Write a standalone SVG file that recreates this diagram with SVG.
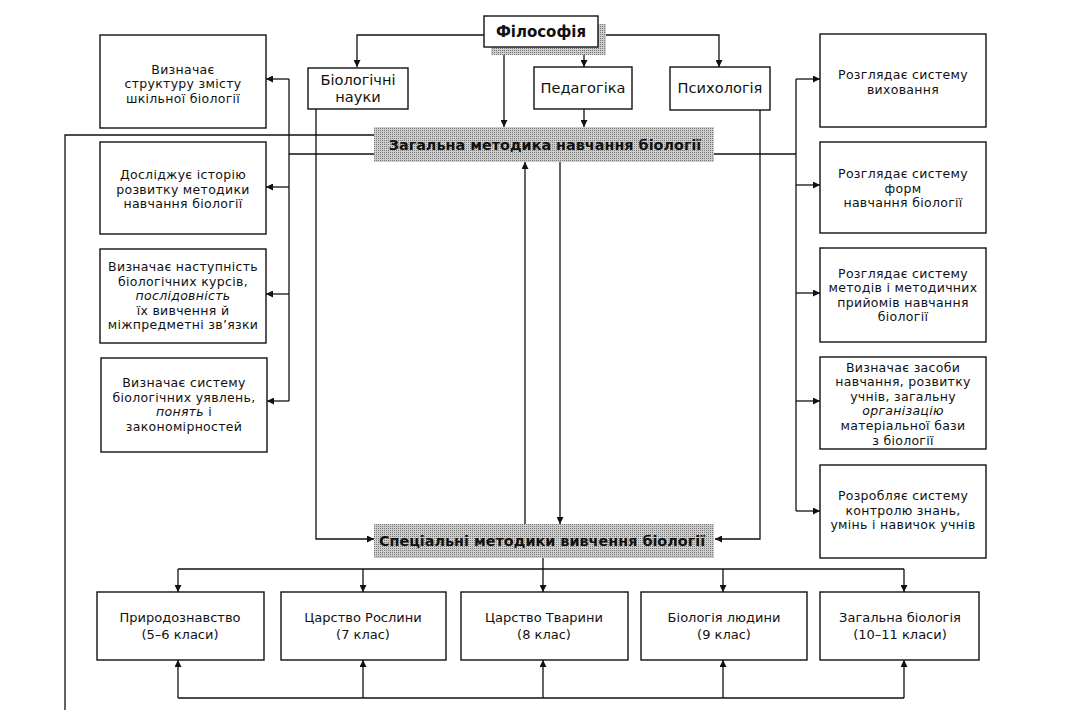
<svg xmlns="http://www.w3.org/2000/svg" width="1067" height="725" viewBox="0 0 1067 725">
<style>
.box{fill:#fff;stroke:#111;stroke-width:1.4}
.bar{fill:url(#dots);stroke:none}
.ln{fill:none;stroke:#111;stroke-width:1.3}
.ar{fill:none;stroke:#111;stroke-width:1.3;marker-end:url(#ah)}
text{font-family:"DejaVu Sans","Noto Sans",sans-serif;fill:#111;text-anchor:middle}
.t{font-size:12.5px;letter-spacing:0.3px}
.c{font-size:13px}
.h{font-size:14.6px}
.b{font-size:14.4px;font-weight:bold}
.i{font-style:italic}
</style>
<defs>
<pattern id="dots" width="2" height="2" patternUnits="userSpaceOnUse">
<rect width="2" height="2" fill="#cdcdcd"/>
<rect width="1" height="1" fill="#7a7a7a"/>
</pattern>
<marker id="ah" viewBox="0 0 10 10" refX="10" refY="5" markerWidth="9" markerHeight="7" markerUnits="userSpaceOnUse" orient="auto">
<path d="M0,0 L10,5 L0,10 Z" fill="#111"/>
</marker>
</defs>
<rect width="1067" height="725" fill="#fff"/>

<g id="connectors">
<polyline class="ar" points="484,35 357,35 357,67"/>
<polyline class="ar" points="598,35 719,35 719,67"/>
<line class="ar" x1="504" y1="47" x2="504" y2="127"/>
<line class="ar" x1="584" y1="47" x2="584" y2="67"/>
<line class="ar" x1="584" y1="109" x2="584" y2="127"/>
<polyline class="ar" points="316,109 316,539 374,539"/>
<polyline class="ar" points="760,110 760,539 715,539"/>
<line class="ar" x1="525" y1="524" x2="525" y2="162"/>
<line class="ar" x1="560" y1="162" x2="560" y2="524"/>
<polyline class="ln" points="374,135 65,135 65,710"/>
<line class="ln" x1="374" y1="154" x2="289" y2="154"/>
<line class="ln" x1="289" y1="79" x2="289" y2="401"/>
<line class="ar" x1="289" y1="79" x2="266" y2="79"/>
<line class="ar" x1="289" y1="187" x2="266" y2="187"/>
<line class="ar" x1="289" y1="294" x2="266" y2="294"/>
<line class="ar" x1="289" y1="401" x2="267" y2="401"/>
<line class="ln" x1="714" y1="154" x2="796" y2="154"/>
<line class="ln" x1="796" y1="79" x2="796" y2="511"/>
<line class="ar" x1="796" y1="79" x2="820" y2="79"/>
<line class="ar" x1="796" y1="185" x2="820" y2="185"/>
<line class="ar" x1="796" y1="293" x2="820" y2="293"/>
<line class="ar" x1="796" y1="401" x2="820" y2="401"/>
<line class="ar" x1="796" y1="511" x2="820" y2="511"/>
<line class="ln" x1="543" y1="558" x2="543" y2="569"/>
<line class="ln" x1="178" y1="569" x2="904" y2="569"/>
<line class="ar" x1="178" y1="569" x2="178" y2="592"/>
<line class="ar" x1="363" y1="569" x2="363" y2="592"/>
<line class="ar" x1="543" y1="569" x2="543" y2="592"/>
<line class="ar" x1="723" y1="569" x2="723" y2="592"/>
<line class="ar" x1="904" y1="569" x2="904" y2="592"/>
<line class="ln" x1="178" y1="698" x2="904" y2="698"/>
<line class="ar" x1="178" y1="698" x2="178" y2="660"/>
<line class="ar" x1="363" y1="698" x2="363" y2="660"/>
<line class="ar" x1="543" y1="698" x2="543" y2="660"/>
<line class="ar" x1="723" y1="698" x2="723" y2="660"/>
<line class="ar" x1="904" y1="698" x2="904" y2="660"/>
</g>

<g id="philosophy">
<rect class="bar" x="491" y="24" width="115" height="31"/>
<rect class="box" x="484" y="16" width="114" height="31"/>
<text class="b" x="541" y="37" style="font-size:15px">Філософія</text>
</g>
<g id="bio-sciences">
<rect class="box" x="308" y="68" width="100" height="41"/>
<text class="h" x="358" y="85"><tspan x="358">Біологічні</tspan><tspan x="358" dy="17">науки</tspan></text>
</g>
<g id="pedagogy">
<rect class="box" x="534" y="67" width="98" height="42"/>
<text class="h" x="583" y="93">Педагогіка</text>
</g>
<g id="psychology">
<rect class="box" x="670" y="67" width="100" height="43"/>
<text class="h" x="720" y="93">Психологія</text>
</g>
<g id="general-methods">
<rect class="bar" x="374" y="127" width="340" height="35"/>
<text class="b" x="545" y="150">Загальна методика навчання біології</text>
</g>
<g id="special-methods">
<rect class="bar" x="374" y="524" width="340" height="34"/>
<text class="b" x="542" y="546">Спеціальні методики вивчення біології</text>
</g>

<g id="left1">
<rect class="box" x="100" y="35" width="166" height="93"/>
<text class="t" x="183" y="73.5"><tspan x="183">Визначає</tspan><tspan x="183" dy="14.6">структуру змісту</tspan><tspan x="183" dy="14.6">шкільної біології</tspan></text>
</g>
<g id="left2">
<rect class="box" x="100" y="142" width="166" height="92"/>
<text class="t" x="183" y="179"><tspan x="183">Досліджує історію</tspan><tspan x="183" dy="14.6">розвитку методики</tspan><tspan x="183" dy="14.6">навчання біології</tspan></text>
</g>
<g id="left3">
<rect class="box" x="100" y="249" width="166" height="94"/>
<text class="t" x="183" y="271"><tspan x="183">Визначає наступність</tspan><tspan x="183" dy="14.6">біологічних курсів,</tspan><tspan x="183" dy="14.6" class="i">послідовність</tspan><tspan x="183" dy="14.6">їх вивчення й</tspan><tspan x="183" dy="14.6">міжпредметні зв’язки</tspan></text>
</g>
<g id="left4">
<rect class="box" x="101" y="358" width="166" height="94"/>
<text class="t" x="184" y="387"><tspan x="184">Визначає систему</tspan><tspan x="184" dy="14.6">біологічних уявлень,</tspan><tspan x="184" dy="14.6"><tspan class="i">понять</tspan> і</tspan><tspan x="184" dy="14.6">закономірностей</tspan></text>
</g>

<g id="right1">
<rect class="box" x="820" y="34" width="166" height="93"/>
<text class="t" x="903" y="79"><tspan x="903">Розглядає систему</tspan><tspan x="903" dy="14.6">виховання</tspan></text>
</g>
<g id="right2">
<rect class="box" x="820" y="142" width="166" height="91"/>
<text class="t" x="903" y="178"><tspan x="903">Розглядає систему</tspan><tspan x="903" dy="14.6">форм</tspan><tspan x="903" dy="14.6">навчання біології</tspan></text>
</g>
<g id="right3">
<rect class="box" x="820" y="248" width="166" height="94"/>
<text class="t" x="903" y="277.5"><tspan x="903">Розглядає систему</tspan><tspan x="903" dy="14.6">методів і методичних</tspan><tspan x="903" dy="14.6">прийомів навчання</tspan><tspan x="903" dy="14.6">біології</tspan></text>
</g>
<g id="right4">
<rect class="box" x="820" y="357" width="166" height="92"/>
<text class="t" x="903" y="371.5"><tspan x="903">Визначає засоби</tspan><tspan x="903" dy="14.6">навчання, розвитку</tspan><tspan x="903" dy="14.6">учнів, загальну</tspan><tspan x="903" dy="14.6" class="i">організацію</tspan><tspan x="903" dy="14.6">матеріальної бази</tspan><tspan x="903" dy="14.6">з біології</tspan></text>
</g>
<g id="right5">
<rect class="box" x="820" y="465" width="166" height="93"/>
<text class="t" x="903" y="500"><tspan x="903">Розробляє систему</tspan><tspan x="903" dy="14.6">контролю знань,</tspan><tspan x="903" dy="14.6">умінь і навичок учнів</tspan></text>
</g>

<g id="course1">
<rect class="box" x="97" y="592" width="167" height="68"/>
<text class="c" x="180" y="622"><tspan x="180">Природознавство</tspan><tspan x="180" dy="17">(5–6 класи)</tspan></text>
</g>
<g id="course2">
<rect class="box" x="281" y="592" width="165" height="68"/>
<text class="c" x="363" y="622"><tspan x="363">Царство Рослини</tspan><tspan x="363" dy="17">(7 клас)</tspan></text>
</g>
<g id="course3">
<rect class="box" x="461" y="592" width="167" height="68"/>
<text class="c" x="544" y="622"><tspan x="544">Царство Тварини</tspan><tspan x="544" dy="17">(8 клас)</tspan></text>
</g>
<g id="course4">
<rect class="box" x="641" y="592" width="166" height="68"/>
<text class="c" x="724" y="622"><tspan x="724">Біологія людини</tspan><tspan x="724" dy="17">(9 клас)</tspan></text>
</g>
<g id="course5">
<rect class="box" x="820" y="592" width="159" height="68"/>
<text class="c" x="900" y="622"><tspan x="900">Загальна біологія</tspan><tspan x="900" dy="17">(10–11 класи)</tspan></text>
</g>
</svg>
